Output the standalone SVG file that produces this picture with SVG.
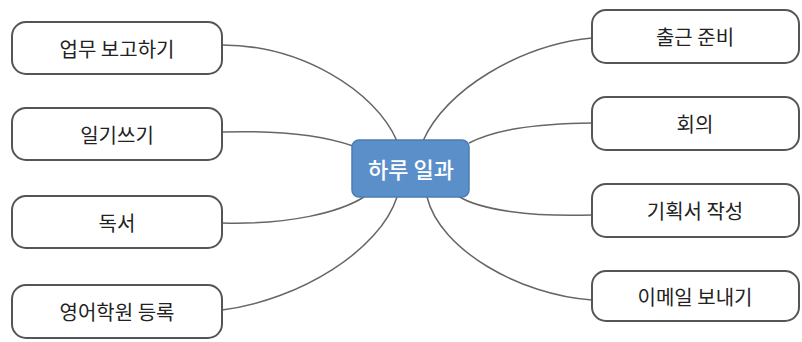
<svg xmlns="http://www.w3.org/2000/svg" width="802" height="342" viewBox="0 0 802 342">
<style>
.box{fill:#fff;stroke:#555;stroke-width:2}
.lbl{font-family:"Noto Sans CJK KR","Noto Sans",sans-serif;font-size:20px;fill:#222;text-anchor:middle;dominant-baseline:central}
.con{fill:none;stroke:#666;stroke-width:1.5}
</style>
<rect width="802" height="342" fill="#fff"/>
<g id="connectors">
<path class="con" d="M222,45 C300,45 375,90 397,141"/>
<path class="con" d="M222,132 C290,130 330,138 353,146"/>
<path class="con" d="M222,223 C290,225 340,212 364,197"/>
<path class="con" d="M222,310 C300,300 380,250 397,197"/>
<path class="con" d="M592,38 C520,45 445,90 423,141"/>
<path class="con" d="M592,123 C530,124 495,130 469,143"/>
<path class="con" d="M592,215 C530,217 480,210 458,196"/>
<path class="con" d="M592,300 C520,295 440,250 427,197"/>
</g>
<g id="center">
<rect x="352" y="140" width="117" height="57" rx="7" fill="#5b8fc9" stroke="#4a7db5" stroke-width="1.5"/>
<text x="411" y="168" class="lbl" style="fill:#fff;font-size:22px;font-weight:500">하루 일과</text>
</g>
<g id="n1"><rect class="box" x="12" y="22" width="210" height="52" rx="14"/><text class="lbl" x="117" y="48">업무 보고하기</text></g>
<g id="n2"><rect class="box" x="12" y="108" width="210" height="52" rx="14"/><text class="lbl" x="117" y="134">일기쓰기</text></g>
<g id="n3"><rect class="box" x="12" y="196" width="210" height="52" rx="14"/><text class="lbl" x="117" y="222">독서</text></g>
<g id="n4"><rect class="box" x="12" y="285" width="210" height="53" rx="14"/><text class="lbl" x="117" y="311">영어학원 등록</text></g>
<g id="n5"><rect class="box" x="592" y="10" width="207" height="53" rx="14"/><text class="lbl" x="695" y="36">출근 준비</text></g>
<g id="n6"><rect class="box" x="592" y="97" width="207" height="53" rx="14"/><text class="lbl" x="695" y="123">회의</text></g>
<g id="n7"><rect class="box" x="592" y="184" width="207" height="53" rx="14"/><text class="lbl" x="695" y="210">기획서 작성</text></g>
<g id="n8"><rect class="box" x="592" y="271" width="207" height="50" rx="14"/><text class="lbl" x="695" y="296">이메일 보내기</text></g>
</svg>
